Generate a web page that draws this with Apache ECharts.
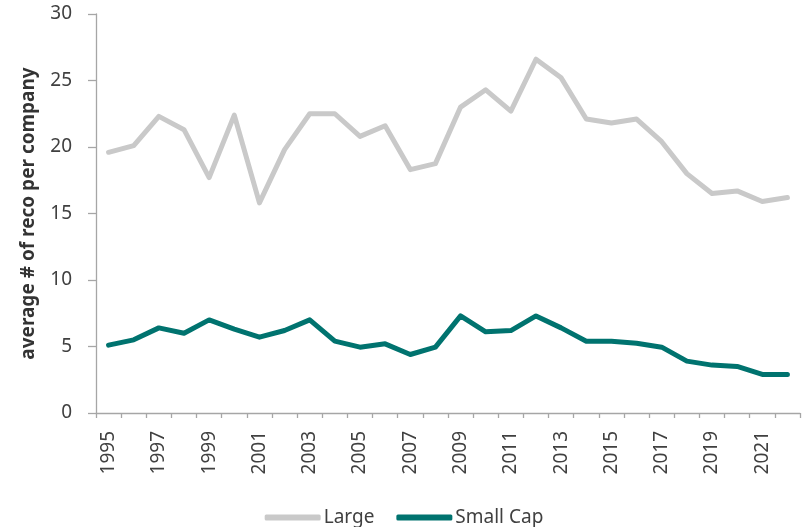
<!DOCTYPE html>
<html>
<head>
<meta charset="utf-8">
<script src="https://cdn.jsdelivr.net/npm/echarts@6/dist/echarts.min.js"></script>
<style>
html,body{margin:0;padding:0;background:#fff;}
#c{width:808px;height:527px;}
</style>
</head>
<body>
<div id="c"></div>
<script>
const years = ['1995','1996','1997','1998','1999','2000','2001','2002','2003','2004','2005','2006','2007','2008','2009','2010','2011','2012','2013','2014','2015','2016','2017','2018','2019','2020','2021','2022'];
const large = [19.6,20.1,22.3,21.3,17.7,22.4,15.8,19.8,22.5,22.5,20.8,21.6,18.3,18.75,23.0,24.3,22.7,26.6,25.2,22.1,21.8,22.1,20.4,18.0,16.5,16.7,15.9,16.2];
const smallCap = [5.1,5.5,6.4,6.0,7.0,6.3,5.7,6.2,7.0,5.4,4.95,5.2,4.4,4.95,7.3,6.1,6.2,7.3,6.4,5.4,5.4,5.25,4.95,3.9,3.6,3.5,2.9,2.9];
const yTitle = 'average # of reco per company';
const seriesNames = ['Large','Small Cap'];

const textColor = '#404040';
const axisColor = '#a6a6a6';
const font = '"Noto Sans", "Open Sans", sans-serif';

const chart = echarts.init(document.getElementById('c'), null, {renderer:'canvas'});
chart.setOption({
  animation: false,
  textStyle: {fontFamily: font},
  grid: {left: 96, right: 8, top: 14, bottom: 114, containLabel: false},
  legend: {
    bottom: 0,
    left: 'center',
    top: 503,
    data: seriesNames,
    icon: 'roundRect',
    itemWidth: 56,
    itemHeight: 6,
    itemGap: 22,
    textStyle: {fontSize: 19, color: textColor, fontFamily: font, padding: [0,0,0,-2]}
  },
  xAxis: {
    type: 'category',
    data: years,
    boundaryGap: true,
    axisLine: {lineStyle: {color: axisColor, width: 1.3}},
    axisTick: {show: true, interval: 0, length: 5, lineStyle: {color: axisColor, width: 1.3}},
    axisLabel: {interval: 1, rotate: 90, fontSize: 19, color: textColor, margin: 18, fontFamily: font}
  },
  yAxis: {
    type: 'value',
    min: 0, max: 30, interval: 5,
    name: yTitle,
    nameLocation: 'middle',
    nameGap: 58,
    nameTextStyle: {fontSize: 19, fontWeight: 'bold', color: '#333333', fontFamily: font},
    splitLine: {show: false},
    axisLine: {show: true, lineStyle: {color: axisColor, width: 1.3}},
    axisTick: {show: true, length: 8, lineStyle: {color: axisColor, width: 1.3}},
    axisLabel: {fontSize: 19, color: textColor, margin: 24, fontFamily: font}
  },
  series: [
    {
      name: seriesNames[0], type: 'line', data: large, symbol: 'none',
      lineStyle: {color: '#c9c9c9', width: 5, join: 'round', cap: 'round'},
      itemStyle: {color: '#c9c9c9'}
    },
    {
      name: seriesNames[1], type: 'line', data: smallCap, symbol: 'none',
      lineStyle: {color: '#00736f', width: 5, join: 'round', cap: 'round'},
      itemStyle: {color: '#00736f'}
    }
  ]
});
</script>
</body>
</html>
